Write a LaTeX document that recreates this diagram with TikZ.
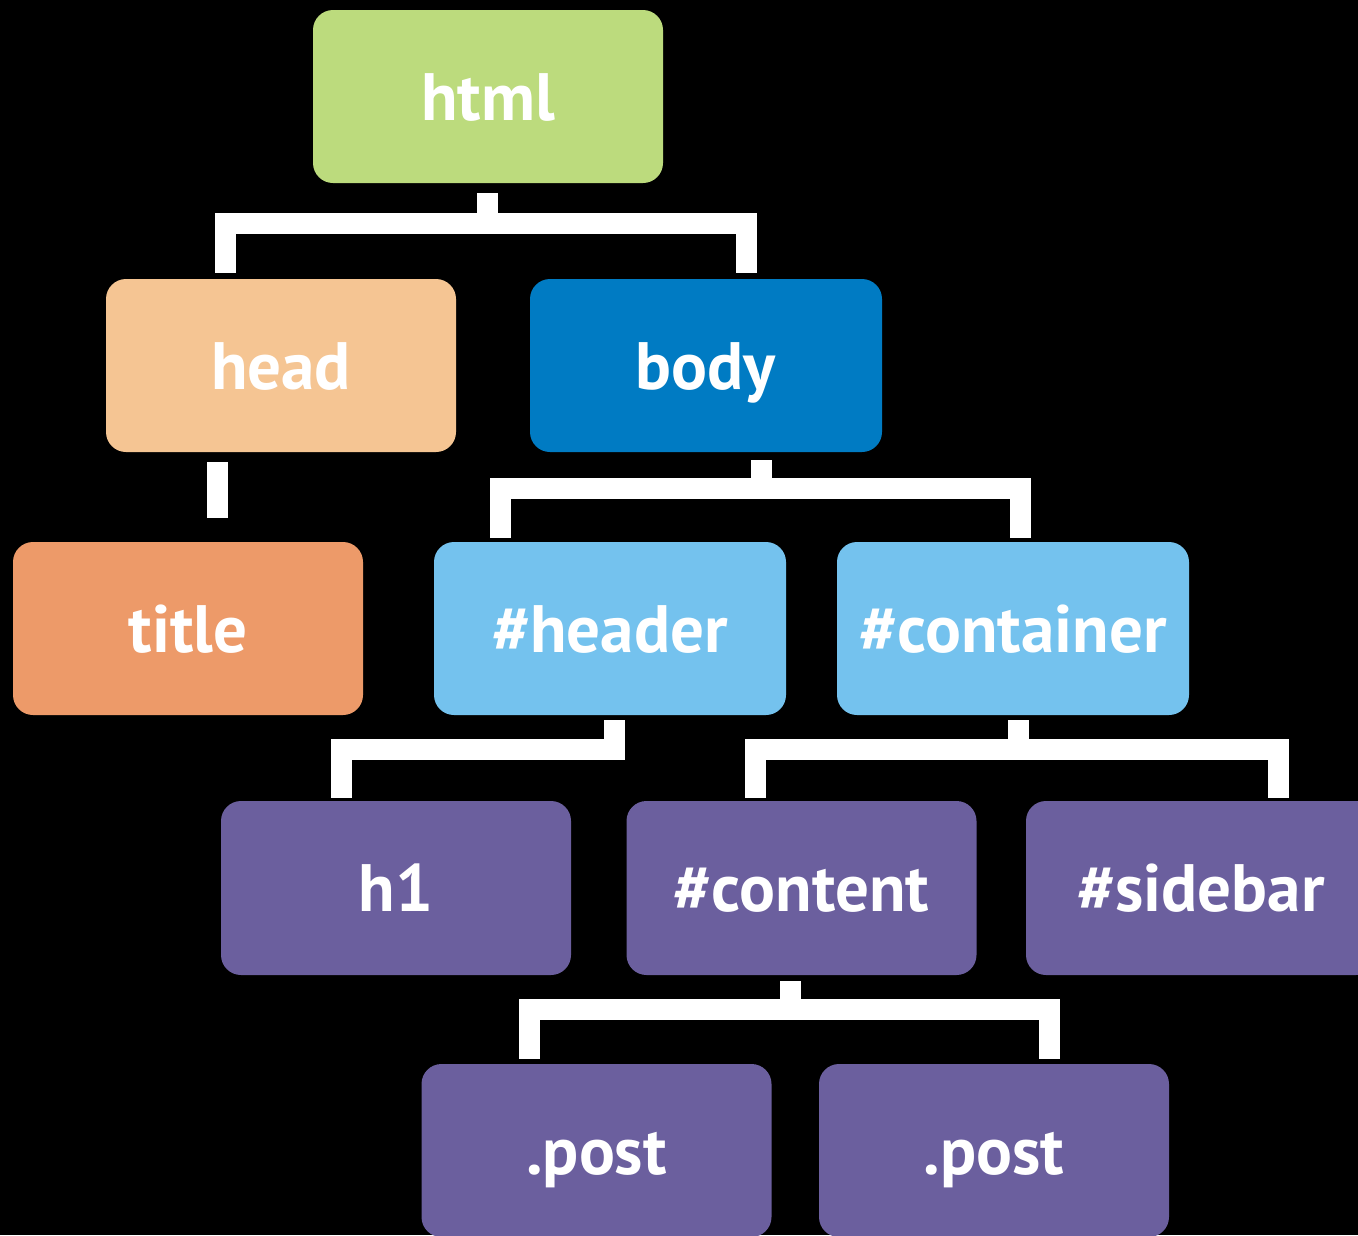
\documentclass[tikz,border=0pt]{standalone}
\usepackage{fontspec}
\setmainfont{PT Sans}
\usetikzlibrary{calc}
\definecolor{cgreen}{RGB}{188,219,125}
\definecolor{cpeach}{RGB}{245,197,147}
\definecolor{cblue}{RGB}{0,123,195}
\definecolor{corange}{RGB}{237,154,105}
\definecolor{clight}{RGB}{116,194,238}
\definecolor{cpurple}{RGB}{107,95,158}
\tikzset{
  box/.style={rectangle, rounded corners=20pt, minimum width=350pt, minimum height=173pt,
    inner sep=0pt, text=white, font=\fontsize{67}{67}\selectfont\bfseries,
    text height=47pt, text depth=0pt},
  conn/.style={draw=white, line width=21pt, line join=miter, line cap=butt}
}
\begin{document}
\begin{tikzpicture}[x=1pt,y=-1pt]
\fill[black] (0,0) rectangle (1358,1235);
\useasboundingbox (0,0) rectangle (1358,1235);
% nodes
\node[box, fill=cgreen] (html) at (488,96.5) {html};
\node[box, fill=cpeach] (head) at (281,365.5) {head};
\node[box, fill=cblue, minimum width=352pt] (body) at (706,365.5) {body};
\node[box, fill=corange] (title) at (188,628.5) {title};
\node[box, fill=clight, minimum width=352pt] (header) at (610,628.5) {\#header};
\node[box, fill=clight, minimum width=352pt] (container) at (1013,628.5) {\#container};
\node[box, fill=cpurple, minimum height=174pt] (h1) at (396,888) {h1};
\node[box, fill=cpurple, minimum height=174pt] (content) at (801.5,888) {\#content};
\node[box, fill=cpurple, minimum height=174pt] (sidebar) at (1201,888) {\#sidebar};
\node[box, fill=cpurple] (post1) at (596.5,1150.5) {.post};
\node[box, fill=cpurple] (post2) at (994,1150.5) {.post};
% html -> head, body
\draw[conn] ($(html.south)+(-1,10)$) -- ($(html.south)+(-1,40.5)$);
\draw[conn] ($(head.north)+(-56,-6)$) |- ($(body.north)+(40,-55.5)$) -- ($(body.north)+(40,-6)$);
% head -> title
\draw[conn] ($(head.south)+(-64,10)$) -- ($(title.north)+(29,-24)$);
% body -> header, container
\draw[conn] ($(body.south)+(55,8)$) -- ($(body.south)+(55,37)$);
\draw[conn] ($(header.north)+(-110,-4)$) |- ($(container.north)+(7,-53)$) -- ($(container.north)+(7,-4)$);
% header -> h1
\draw[conn] ($(header.south)+(4,5)$) |- ($(h1.north)+(-55,-51)$) -- ($(h1.north)+(-55,-3)$);
% container -> content, sidebar
\draw[conn] ($(container.south)+(5,5)$) -- ($(container.south)+(5,35)$);
\draw[conn] ($(content.north)+(-46.5,-3)$) |- ($(sidebar.north)+(77,-51)$) -- ($(sidebar.north)+(77,-3)$);
% content -> posts
\draw[conn] ($(content.south)+(-11.5,6)$) -- ($(content.south)+(-11.5,35)$);
\draw[conn] ($(post1.north)+(-67.5,-5)$) |- ($(post2.north)+(55,-54)$) -- ($(post2.north)+(55,-5)$);
\end{tikzpicture}
\end{document}
